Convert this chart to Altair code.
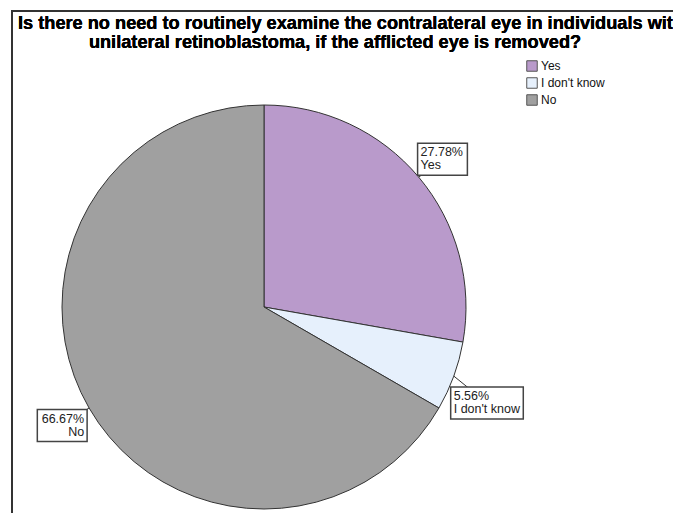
import altair as alt
import pandas as pd

categories = ["Yes", "I don't know", "No"]
counts = [5, 1, 12]
colors = ["#b99acb", "#e6f0fc", "#a0a0a0"]
title_lines = [
    "Is there no need to routinely examine the contralateral eye in individuals with",
    "unilateral retinoblastoma, if the afflicted eye is removed?",
]

df = pd.DataFrame({"cat": categories, "value": counts, "order": list(range(len(categories)))})

CX, CY, R = 264, 307, 202
FONT = "Liberation Sans"

base = alt.Chart(df).transform_joinaggregate(
    total="sum(value)"
).transform_window(
    cum="sum(value)", sort=[alt.SortField("order")], frame=[None, 0]
).transform_calculate(
    frac="datum.value / datum.total",
    mid="2 * PI * (datum.cum - datum.value / 2) / datum.total",
).transform_calculate(
    lr="datum.frac < 0.1 ? 242 : 233",
    lmid="datum.frac < 0.1 ? datum.mid + 0.05 : datum.mid",
    pct="format(datum.frac, '.2%')",
).transform_calculate(
    cx=f"{CX} + datum.lr * sin(datum.lmid)",
    cy=f"{CY} - datum.lr * cos(datum.lmid) + 2",
    ex=f"{CX} + {R} * sin(datum.mid)",
    ey=f"{CY} - {R} * cos(datum.mid)",
    w="max(length(datum.pct), length(datum.cat)) * 3.8 + 27",
    h="32",
    right="sin(datum.mid) < 0",
    label="datum.pct + '\\n' + datum.cat",
).transform_calculate(
    x1="datum.cx - datum.w / 2",
    x2="datum.cx + datum.w / 2",
    y1="datum.cy - datum.h / 2",
    y2="datum.cy + datum.h / 2",
    tx="datum.right ? datum.cx + datum.w / 2 - 3 : datum.cx - datum.w / 2 + 3",
)

pie = base.mark_arc(radius=R, stroke="#333333", strokeWidth=1).encode(
    theta=alt.Theta("value:Q", stack=True),
    order=alt.Order("order:Q"),
    color=alt.Color(
        "cat:N",
        scale=alt.Scale(domain=categories, range=colors),
        legend=alt.Legend(
            title=None,
            orient="none",
            legendX=526,
            legendY=60,
            symbolType="square",
            symbolSize=110,
            symbolStrokeColor="#555555",
            symbolStrokeWidth=1,
            symbolOpacity=1,
            labelFont=FONT,
            labelFontSize=12,
            labelColor="#111111",
            labelOffset=3,
            rowPadding=1,
            padding=0,
        ),
    ),
    x=alt.value(CX),
    y=alt.value(CY),
)

leader = base.mark_rule(stroke="#333333", strokeWidth=1).encode(
    x=alt.X("ex:Q", scale=None),
    y=alt.Y("ey:Q", scale=None),
    x2="cx:Q",
    y2="cy:Q",
)

boxes = base.mark_rect(fill="white", stroke="#444444", strokeWidth=1.5).encode(
    x=alt.X("x1:Q", scale=None),
    x2="x2:Q",
    y=alt.Y("y1:Q", scale=None),
    y2="y2:Q",
)

text_style = dict(font=FONT, fontSize=12.5, lineBreak="\n", baseline="top", lineHeight=13, color="#222222", dy=3)
labels_left = base.transform_filter("!datum.right").mark_text(align="left", **text_style).encode(
    x=alt.X("tx:Q", scale=None),
    y=alt.Y("y1:Q", scale=None),
    text="label:N",
)
labels_right = base.transform_filter("datum.right").mark_text(align="right", **text_style).encode(
    x=alt.X("tx:Q", scale=None),
    y=alt.Y("y1:Q", scale=None),
    text="label:N",
)

frame = alt.Chart(df).mark_rect(fill=None, stroke="#333333", strokeWidth=2).encode(
    x=alt.value(12), x2=alt.value(720), y=alt.value(11), y2=alt.value(560)
)

title1 = alt.Chart(df).mark_text(
    text=title_lines[0], font=FONT, fontSize=18.2, fontWeight="bold", align="left", baseline="alphabetic", color="black"
).encode(x=alt.value(18), y=alt.value(29))

title2 = alt.Chart(df).mark_text(
    text=title_lines[1], font=FONT, fontSize=18.2, fontWeight="bold", align="center", baseline="alphabetic", color="black"
).encode(x=alt.value(335), y=alt.value(48))

chart = alt.layer(frame, pie, leader, boxes, labels_left, labels_right, title1, title2).properties(
    width=673,
    height=513,
    autosize=alt.AutoSizeParams(type="none"),
    padding=0,
).configure_view(stroke=None)

chart.save("out.html", embed_options={"renderer": "svg", "actions": False})
